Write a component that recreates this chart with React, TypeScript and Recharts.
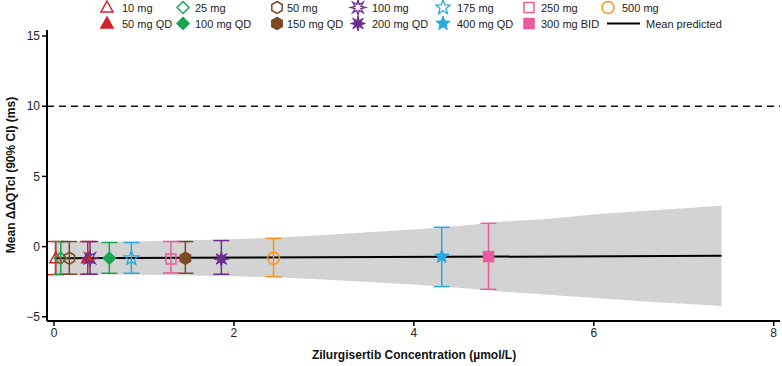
import React from 'react';
import {
  ComposedChart, Area, Line, Scatter, ErrorBar, XAxis, YAxis, ReferenceLine,
} from 'recharts';

// ---------- data ----------
const doseLabels = ['10 mg', '50 mg QD', '25 mg', '100 mg QD', '50 mg', '150 mg QD', '100 mg', '200 mg QD', '175 mg', '400 mg QD', '250 mg', '300 mg BID', '500 mg'];
const concentrations = [0.02, 0.375, 0.075, 0.615, 0.17, 1.46, 0.40, 1.86, 0.86, 4.31, 1.30, 4.83, 2.44];
const meanDDQTc = [-0.83, -0.83, -0.83, -0.83, -0.83, -0.83, -0.83, -0.88, -0.83, -0.71, -0.88, -0.71, -0.83];
const ciLower = [-2.0, -1.97, -1.97, -1.9, -1.97, -1.9, -1.97, -1.97, -1.9, -2.85, -1.88, -3.04, -2.14];
const ciUpper = [0.36, 0.36, 0.36, 0.29, 0.36, 0.36, 0.36, 0.43, 0.29, 1.38, 0.36, 1.66, 0.59];

const bandConc = [0, 0.5, 1, 1.5, 2, 2.5, 3, 3.5, 4, 4.5, 5, 5.5, 6, 6.5, 7, 7.42];
const bandLower = [-2.0, -1.99, -2.01, -2.06, -2.11, -2.21, -2.34, -2.52, -2.7, -2.93, -3.22, -3.43, -3.67, -3.88, -4.07, -4.23];
const bandUpper = [0.34, 0.34, 0.39, 0.46, 0.53, 0.65, 0.82, 1.02, 1.22, 1.47, 1.78, 1.99, 2.29, 2.52, 2.73, 2.91];

const predConc = [0, 7.42];
const predMean = [-0.83, -0.66];

const xTicks = [0, 2, 4, 6, 8];
const yTicks = [-5, 0, 5, 10, 15];
const thresholdQTc = 10;

// ---------- styles ----------
const RED = '#d2232a';
const GREEN = '#1aa552';
const BROWN = '#7b4a24';
const PURPLE = '#6b2f8f';
const BLUE = '#27aae1';
const PINK = '#ea5b9c';
const ORANGE = '#f7941d';

type Style = { color: string; shape: string; filled: boolean };
const styles: Record<string, Style> = {
  '10 mg': { color: RED, shape: 'triangle', filled: false },
  '50 mg QD': { color: RED, shape: 'triangle', filled: true },
  '25 mg': { color: GREEN, shape: 'diamond', filled: false },
  '100 mg QD': { color: GREEN, shape: 'diamond', filled: true },
  '50 mg': { color: BROWN, shape: 'hexagon', filled: false },
  '150 mg QD': { color: BROWN, shape: 'hexagon', filled: true },
  '100 mg': { color: PURPLE, shape: 'burst', filled: false },
  '200 mg QD': { color: PURPLE, shape: 'burst', filled: true },
  '175 mg': { color: BLUE, shape: 'star', filled: false },
  '400 mg QD': { color: BLUE, shape: 'star', filled: true },
  '250 mg': { color: PINK, shape: 'square', filled: false },
  '300 mg BID': { color: PINK, shape: 'square', filled: true },
  '500 mg': { color: ORANGE, shape: 'circle', filled: false },
};

const FONT = "Arial, 'Liberation Sans', Helvetica, sans-serif";

function starPoints(cx: number, cy: number, n: number, ro: number, ri: number) {
  const pts: string[] = [];
  for (let i = 0; i < n * 2; i++) {
    const r = i % 2 === 0 ? ro : ri;
    const a = -Math.PI / 2 + (i * Math.PI) / n;
    pts.push(`${cx + r * Math.cos(a)},${cy + r * Math.sin(a)}`);
  }
  return pts.join(' ');
}

function Marker({ cx, cy, st }: { cx: number; cy: number; st: Style }) {
  const fill = st.filled ? st.color : 'none';
  const common = { stroke: st.color, strokeWidth: 1.5, fill };
  switch (st.shape) {
    case 'triangle':
      return <polygon points={`${cx},${cy - 6.5} ${cx + 6},${cy + 4.5} ${cx - 6},${cy + 4.5}`} {...common} />;
    case 'diamond':
      return <polygon points={`${cx},${cy - 6} ${cx + 6},${cy} ${cx},${cy + 6} ${cx - 6},${cy}`} {...common} />;
    case 'hexagon':
      return <polygon points={starPoints(cx, cy, 3, 6, 6)} {...common} />;
    case 'burst':
      return <polygon points={starPoints(cx, cy, 8, 7.5, 3.2)} {...common} strokeWidth={st.filled ? 1 : 1.3} />;
    case 'star':
      return <polygon points={starPoints(cx, cy, 5, 7.5, 3.2)} {...common} strokeWidth={st.filled ? 1 : 1.3} />;
    case 'square':
      return <rect x={cx - 5} y={cy - 5} width={10} height={10} {...common} />;
    case 'circle':
    default:
      return <circle cx={cx} cy={cy} r={6} {...common} />;
  }
}

const bandData = bandConc.map((x, i) => ({ x, range: [bandLower[i], bandUpper[i]] }));
const predData = predConc.map((x, i) => ({ x, y: predMean[i] }));

const seriesData = doseLabels.map((label, i) => ({
  label,
  rows: [{
    x: concentrations[i],
    y: meanDDQTc[i],
    err: [meanDDQTc[i] - ciLower[i], ciUpper[i] - meanDDQTc[i]],
  }],
}));

const legendColumns: { label: string; iconX: number; textX: number }[][] = [
  [{ label: '10 mg', iconX: 107, textX: 122 }, { label: '50 mg QD', iconX: 107, textX: 122 }],
  [{ label: '25 mg', iconX: 183, textX: 195 }, { label: '100 mg QD', iconX: 183, textX: 195 }],
  [{ label: '50 mg', iconX: 277, textX: 287 }, { label: '150 mg QD', iconX: 277, textX: 287 }],
  [{ label: '100 mg', iconX: 358, textX: 372 }, { label: '200 mg QD', iconX: 358, textX: 372 }],
  [{ label: '175 mg', iconX: 443, textX: 457 }, { label: '400 mg QD', iconX: 443, textX: 457 }],
  [{ label: '250 mg', iconX: 529, textX: 541 }, { label: '300 mg BID', iconX: 529, textX: 541 }],
  [{ label: '500 mg', iconX: 608, textX: 622 }],
];
const ROW_Y = [7.5, 23.5];

function LegendOverlay() {
  return (
    <svg width={782} height={34} style={{ position: 'absolute', left: 0, top: 0, display: 'block' }}>
      {legendColumns.map((col, ci) =>
        col.map((it, ri) => (
          <g key={`${ci}-${ri}`}>
            <Marker cx={it.iconX} cy={ROW_Y[ri]} st={styles[it.label]} />
            <text x={it.textX} y={ROW_Y[ri]} dominantBaseline="central" fontSize={11} fontFamily={FONT} fill="#222">
              {it.label}
            </text>
          </g>
        )),
      )}
      <line x1={607} x2={640} y1={ROW_Y[1]} y2={ROW_Y[1]} stroke="#000" strokeWidth={2} />
      <text x={646} y={ROW_Y[1]} dominantBaseline="central" fontSize={11} fontFamily={FONT} fill="#222">
        Mean predicted
      </text>
    </svg>
  );
}

const fmtY = (v: number) => (v < 0 ? `\u2212${Math.abs(v)}` : `${v}`);

export default function App() {
  return (
    <div style={{ position: 'absolute', left: 0, top: 0, width: 782, height: 366, background: '#fff' }}>
      <ComposedChart
        width={782}
        height={366}
        margin={{ top: 30, right: 2, bottom: 25, left: 7 }}
        data={bandData}
        style={{ fontFamily: FONT }}
      >
        <XAxis
          type="number"
          dataKey="x"
          domain={[-0.078, 8.07]}
          ticks={xTicks}
          allowDataOverflow
          height={20}
          axisLine={{ stroke: '#000', strokeWidth: 2 }}
          tickLine={{ stroke: '#000', strokeWidth: 1.5 }}
          tickSize={5}
          tick={{ fill: '#222', fontSize: 12, fontFamily: FONT }}
          label={{
            content: () => (
              <text x={414} y={359} textAnchor="middle" fontSize={12} fontWeight="bold" fontFamily={FONT} fill="#111">
                Zilurgisertib Concentration (µmol/L)
              </text>
            ),
          }}
        />
        <YAxis
          type="number"
          dataKey="y"
          domain={[-5.3, 15.43]}
          ticks={yTicks}
          allowDataOverflow
          width={40}
          axisLine={{ stroke: '#000', strokeWidth: 2 }}
          tickLine={{ stroke: '#000', strokeWidth: 1.5 }}
          tickSize={5}
          tickFormatter={fmtY}
          tick={{ fill: '#222', fontSize: 12, fontFamily: FONT }}
          label={{
            content: () => (
              <text
                x={11}
                y={175}
                transform="rotate(-90 11 175)"
                textAnchor="middle"
                dominantBaseline="central"
                fontSize={12}
                fontWeight="bold"
                fontFamily={FONT}
                fill="#111"
              >
                Mean ΔΔQTcI (90% CI) (ms)
              </text>
            ),
          }}
        />
        <Area
          dataKey="range"
          type="linear"
          stroke="none"
          fill="#d3d3d3"
          fillOpacity={1}
          isAnimationActive={false}
          legendType="none"
        />
        <ReferenceLine y={thresholdQTc} stroke="#111" strokeWidth={1.5} strokeDasharray="7 5" />
        <Line
          data={predData}
          dataKey="y"
          type="linear"
          stroke="#000"
          strokeWidth={2}
          dot={false}
          activeDot={false}
          isAnimationActive={false}
          legendType="none"
        />
        {seriesData.map((s) => (
          <Scatter
            key={s.label}
            name={s.label}
            data={s.rows}
            dataKey="y"
            isAnimationActive={false}
            shape={(p: any) => <Marker cx={p.cx} cy={p.cy} st={styles[s.label]} />}
          >
            <ErrorBar
              dataKey="err"
              direction="y"
              width={8}
              stroke={styles[s.label].color}
              strokeWidth={1.5}
              isAnimationActive={false}
            />
          </Scatter>
        ))}
      </ComposedChart>
      <LegendOverlay />
    </div>
  );
}
